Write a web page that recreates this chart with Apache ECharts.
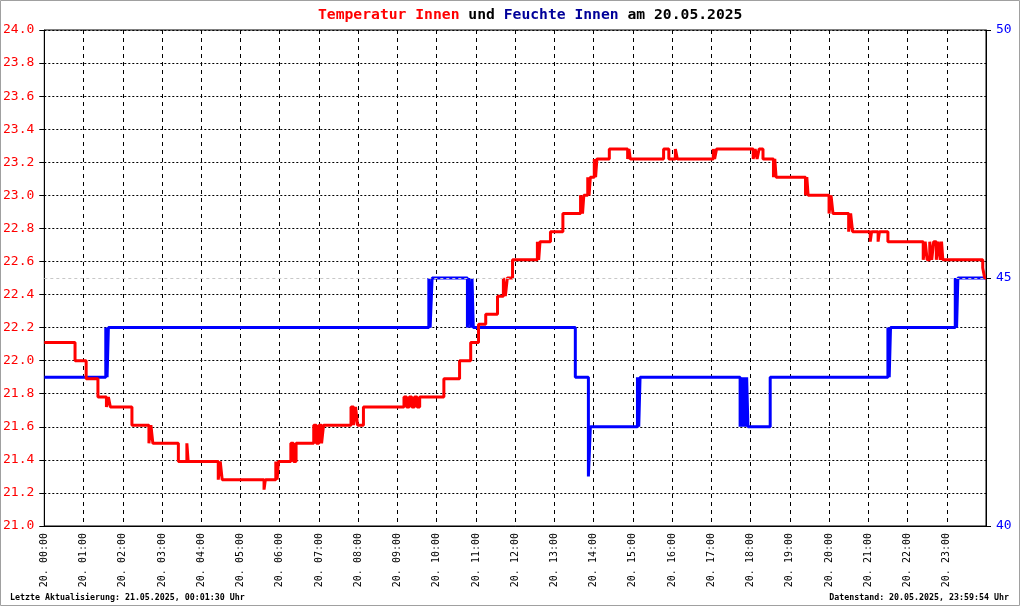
<!DOCTYPE html>
<html>
<head>
<meta charset="utf-8">
<script src="https://cdn.jsdelivr.net/npm/echarts@6/dist/echarts.min.js"></script>
<style>
html,body{margin:0;padding:0;background:#fff;}
#c{width:1020px;height:606px;}
</style>
</head>
<body>
<div id="c"></div>
<script>
// ---- data (time of change "HH:MM", new value) ----
const tempTimes = ["00:00","00:47","01:04","01:22","01:35","01:38","01:41","02:14","02:40","02:43","02:46","03:25","03:38","03:40","04:26","04:29","04:32","04:35","05:36","05:38","05:54","05:56","05:58","06:17","06:21","06:25","06:52","06:56","07:00","07:04","07:07","07:49","07:53","07:56","07:59","08:08","09:10","09:14","09:18","09:22","09:26","09:30","09:34","10:11","10:35","10:52","11:04","11:15","11:33","11:42","11:45","11:48","11:56","12:34","12:36","12:38","12:54","13:13","13:40","13:43","13:45","13:51","13:53","13:55","14:01","14:03","14:05","14:24","14:52","14:54","14:56","15:47","15:55","16:05","16:08","17:03","17:05","17:08","18:04","18:07","18:10","18:13","18:19","18:35","18:37","18:39","19:24","19:26","19:28","20:00","20:03","20:06","20:30","20:33","20:36","21:03","21:05","21:15","21:17","21:30","22:24","22:27","22:30","22:34","22:37","22:40","22:44","22:47","22:50","22:52","22:54","23:55","23:58","24:00"];
const tempValues = [22.11,22.00,21.89,21.78,21.72,21.78,21.72,21.61,21.50,21.61,21.50,21.39,21.50,21.39,21.28,21.39,21.28,21.28,21.22,21.28,21.39,21.28,21.39,21.50,21.39,21.50,21.61,21.50,21.61,21.50,21.61,21.72,21.61,21.72,21.61,21.72,21.78,21.72,21.78,21.72,21.78,21.72,21.78,21.89,22.00,22.11,22.22,22.28,22.39,22.50,22.39,22.50,22.61,22.72,22.61,22.72,22.78,22.89,23.00,22.89,23.00,23.11,23.00,23.11,23.22,23.11,23.22,23.28,23.22,23.28,23.22,23.28,23.22,23.28,23.22,23.28,23.22,23.28,23.22,23.28,23.22,23.28,23.22,23.11,23.22,23.11,23.00,23.11,23.00,22.89,23.00,22.89,22.78,22.89,22.78,22.72,22.78,22.72,22.78,22.72,22.61,22.72,22.61,22.72,22.61,22.72,22.61,22.72,22.61,22.72,22.61,22.56,22.50,22.50];

const humTimes = ["00:00","01:34","01:36","01:38","09:48","09:50","09:53","10:47","10:49","10:52","10:54","10:56","13:32","13:52","13:55","15:07","15:09","15:11","17:44","17:46","17:48","17:50","17:52","17:54","17:56","18:30","21:30","21:32","21:34","23:13","23:15","23:17","24:00"];
const humValues = [43,44,43,44,45,44,45,44,45,44,45,44,43,41,42,43,42,43,42,43,42,43,42,43,42,43,44,43,44,45,44,45,45];

const leftTicks = {min: 21.0, max: 24.0, step: 0.2};
const rightTicks = {min: 40, max: 50, step: 5};
const hourTicks = {min: 0, max: 1440, step: 60};
const dayLabel = "20.";

const titleParts = ["Temperatur Innen", "und", "Feuchte Innen", "am 20.05.2025"];
const footerLeft = "Letzte Aktualisierung: 21.05.2025, 00:01:30 Uhr";
const footerRight = "Datenstand: 20.05.2025, 23:59:54 Uhr";

function toMin(s){const p=s.split(":");return (+p[0])*60+(+p[1]);}
const tempData = tempTimes.map((t,i)=>[toMin(t), tempValues[i]]);
const humData = humTimes.map((t,i)=>[toMin(t), humValues[i]]);

const FONT = "DejaVu Sans Mono";
const chart = echarts.init(document.getElementById('c'), null, {renderer:'canvas'});
chart.setOption({
  animation: false,
  backgroundColor: '#fff',
  title: {
    text: '{r|'+titleParts[0]+' }{k|'+titleParts[1]+' }{b|'+titleParts[2]+' }{k|'+titleParts[3]+'}',
    left: 313, top: 3,
    textStyle: {
      rich: {
        r: {color:'#ff0000', fontFamily: FONT, fontWeight:'bold', fontSize: 14.7},
        k: {color:'#000000', fontFamily: FONT, fontWeight:'bold', fontSize: 14.7},
        b: {color:'#000099', fontFamily: FONT, fontWeight:'bold', fontSize: 14.7}
      }
    }
  },
  grid: {left: 43, right: 34, top: 30, bottom: 80, show: true, borderColor:'#000', borderWidth:1, backgroundColor:'#fff'},
  xAxis: {
    type: 'value', min: hourTicks.min, max: hourTicks.max, interval: hourTicks.step,
    axisLine: {show:true, lineStyle:{color:'#000', width:1}},
    axisTick: {show:false},
    splitLine: {show:true, lineStyle:{color:'#000', type:[4,4], width:1}},
    axisLabel: {
      rotate: 90, margin: 7, fontFamily: FONT, fontSize: 10, color:'#000',
      formatter: function(v){ if (v>=1440) return ''; const h=Math.round(v/60); return dayLabel+' '+(h<10?'0':'')+h+':00'; }
    }
  },
  yAxis: [
    {
      type:'value', min: leftTicks.min, max: leftTicks.max, interval: leftTicks.step, position:'left',
      axisLine:{show:true, lineStyle:{color:'#000', width:1}},
      axisTick:{show:true, length:5, lineStyle:{color:'#000'}},
      splitLine:{show:true, lineStyle:{color:'#000', type:[2,2], width:1}},
      axisLabel:{margin:10, fontFamily: FONT, fontSize:13, color:'#ff0000', formatter:v=>v.toFixed(1)}
    },
    {
      type:'value', min: rightTicks.min, max: rightTicks.max, interval: rightTicks.step, position:'right',
      axisLine:{show:true, lineStyle:{color:'#000', width:1}},
      axisTick:{show:true, length:5, lineStyle:{color:'#000'}},
      splitLine:{show:false},
      axisLabel:{margin:10, fontFamily: FONT, fontSize:13, color:'#0000ff'}
    }
  ],
  series: [
    {
      name:'Feuchte', type:'line', yAxisIndex:1, step:'end', data: humData,
      showSymbol:false, symbol:'none',
      lineStyle:{color:'#0000ff', width:3},
      markLine:{silent:true, symbol:'none', label:{show:false},
        lineStyle:{color:'#c8c8c8', type:[3,3], width:1},
        data:[{yAxis:45}]},
      z: 3
    },
    {
      name:'Temperatur', type:'line', yAxisIndex:0, step:'end', data: tempData,
      showSymbol:false, symbol:'none',
      lineStyle:{color:'#ff0000', width:3},
      z: 4
    }
  ],
  graphic: [
    {type:'rect', shape:{x:0.5,y:0.5,width:1019,height:605}, style:{fill:'none', stroke:'#a0a0a0', lineWidth:1}, silent:true},
    {type:'text', left:10, top:594, style:{text: footerLeft, font:'bold 8.3px "DejaVu Sans Mono"', fill:'#000'}},
    {type:'text', right:11, top:594, style:{text: footerRight, font:'bold 8.3px "DejaVu Sans Mono"', fill:'#000'}}
  ]
});
</script>
</body>
</html>
